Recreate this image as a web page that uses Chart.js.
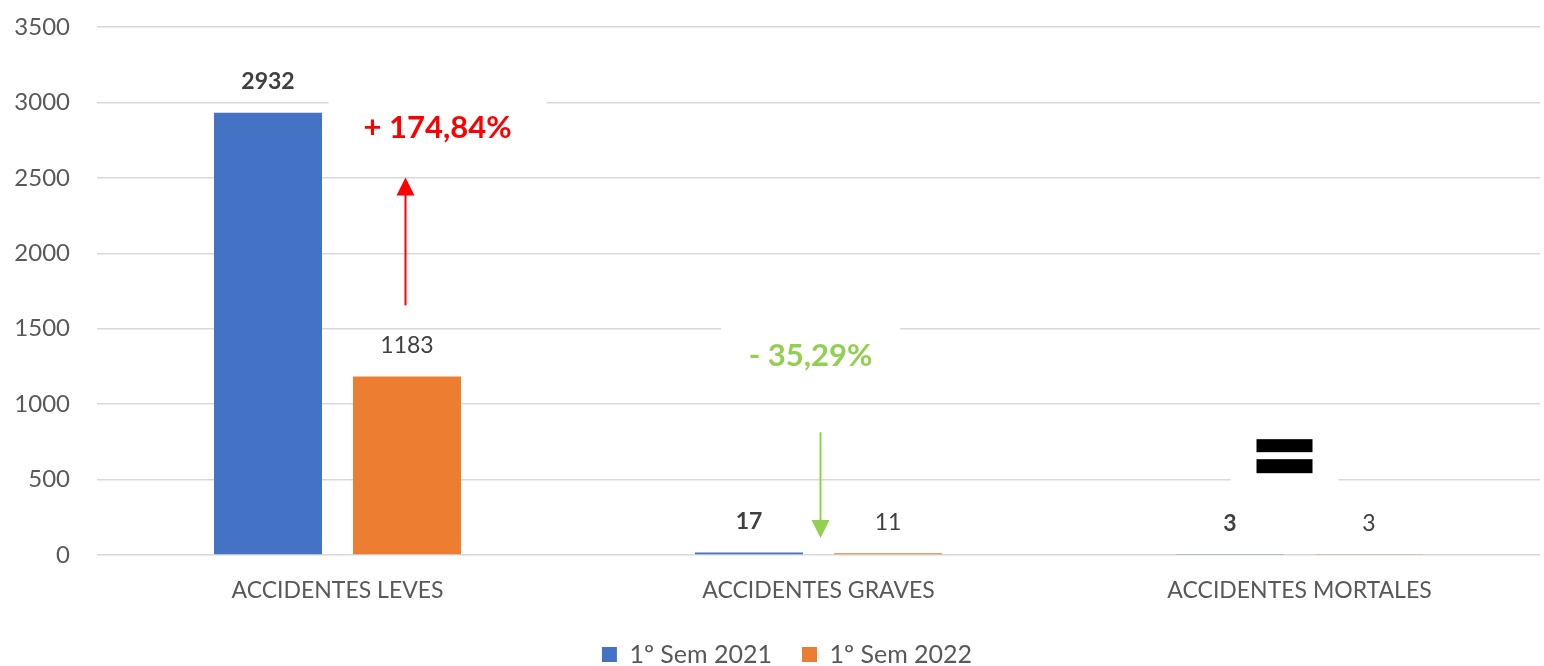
<!DOCTYPE html>
<html>
<head>
<meta charset="utf-8">
<script src="https://cdn.jsdelivr.net/npm/chart.js@4.4.0/dist/chart.umd.min.js"></script>
<style>
  html, body { margin: 0; padding: 0; background: #fff; }
  #wrap { width: 1544px; height: 666px; }
</style>
</head>
<body>
<div id="wrap"><canvas id="accidentes"></canvas></div>
<script>
// datos
const categorias = ['ACCIDENTES LEVES', 'ACCIDENTES GRAVES', 'ACCIDENTES MORTALES'];
const sem2021 = [2932, 17, 3];
const sem2022 = [1183, 11, 3];
const series = ['1º Sem 2021', '1º Sem 2022'];
const yTicks = [0, 500, 1000, 1500, 2000, 2500, 3000, 3500];

// anotaciones: categoria, desplazamiento en px, valor en el eje y
const notas = [
  { cat: 0, dx: 100, y: 2832, texto: '+ 174,84%', color: '#ff0000', caja: [218, 62] },
  { cat: 1, dx: -8, y: 1317, texto: '- 35,29%', color: '#92d050', caja: [179, 62] },
  { cat: 2, dx: -15, y: 655, texto: '=', color: '#000000', caja: [108, 70] }
];
const flechas = [
  { cat: 0, dx: 68, desde: 1655, hasta: 2502, color: '#ff0000' },
  { cat: 1, dx: 2, desde: 814, hasta: 113, color: '#92d050' }
];

const FONT = 'Lato, "Open Sans", sans-serif';

const etiquetas = {
  id: 'etiquetas',
  afterLayout(chart) {
    // la leyenda del original esta algo corrida a la derecha
    chart.legend.left += 17;
    chart.legend.right += 17;
  },
  beforeDatasetsDraw(chart) {
    const ctx = chart.ctx, x = chart.scales.x, y = chart.scales.y;
    ctx.save();
    ctx.fillStyle = '#ffffff';
    notas.forEach(n => {
      const cx = x.getPixelForValue(n.cat) + n.dx, cy = y.getPixelForValue(n.y);
      ctx.fillRect(cx - n.caja[0] / 2, cy - n.caja[1] / 2, n.caja[0], n.caja[1]);
    });
    ctx.restore();
  },
  afterDatasetsDraw(chart) {
    const ctx = chart.ctx, x = chart.scales.x, y = chart.scales.y;
    ctx.save();
    // valores sobre las barras
    ctx.textAlign = 'center';
    ctx.textBaseline = 'middle';
    ctx.fillStyle = '#404040';
    chart.data.datasets.forEach((ds, i) => {
      const meta = chart.getDatasetMeta(i);
      ctx.font = (i === 0 ? 'bold ' : '') + '23px ' + FONT;
      meta.data.forEach((bar, j) => {
        ctx.fillText(String(ds.data[j]), bar.x, bar.y - 31);
      });
    });
    // textos de variacion
    notas.forEach(n => {
      const cx = x.getPixelForValue(n.cat) + n.dx, cy = y.getPixelForValue(n.y);
      ctx.fillStyle = n.color;
      if (n.texto === '=') {
        ctx.fillRect(cx - 28, cy - 17, 56, 13);
        ctx.fillRect(cx - 28, cy + 3, 56, 14);
      } else {
        ctx.font = 'bold 31px ' + FONT;
        ctx.fillText(n.texto, cx, cy);
      }
    });
    // flechas
    flechas.forEach(f => {
      const cx = x.getPixelForValue(f.cat) + f.dx;
      const y0 = y.getPixelForValue(f.desde), y1 = y.getPixelForValue(f.hasta);
      const dir = y1 < y0 ? -1 : 1;
      ctx.strokeStyle = f.color;
      ctx.fillStyle = f.color;
      ctx.lineWidth = 2;
      ctx.beginPath();
      ctx.moveTo(cx, y0);
      ctx.lineTo(cx, y1 - dir * 16);
      ctx.stroke();
      ctx.beginPath();
      ctx.moveTo(cx, y1);
      ctx.lineTo(cx - 9, y1 - dir * 18);
      ctx.lineTo(cx + 9, y1 - dir * 18);
      ctx.closePath();
      ctx.fill();
    });
    ctx.restore();
  }
};

new Chart(document.getElementById('accidentes'), {
  type: 'bar',
  data: {
    labels: categorias,
    datasets: [{
      label: series[0],
      data: sem2021,
      backgroundColor: '#4472c4',
      categoryPercentage: 0.578,
      barPercentage: 0.777
    }, {
      label: series[1],
      data: sem2022,
      backgroundColor: '#ed7d31',
      categoryPercentage: 0.578,
      barPercentage: 0.777
    }]
  },
  options: {
    responsive: true,
    maintainAspectRatio: false,
    animation: false,
    layout: { padding: { top: 27, right: 4, left: 0, bottom: -11 } },
    plugins: {
      legend: {
        position: 'bottom',
        labels: {
          boxWidth: 15,
          boxHeight: 15,
          padding: 30,
          color: '#595959',
          font: { family: FONT, size: 25 }
        }
      },
      tooltip: { enabled: false }
    },
    scales: {
      x: {
        grid: { display: false },
        border: { display: false },
        ticks: { color: '#595959', padding: 14, font: { family: FONT, size: 23 } },
        afterFit(s) { s.height = 57; }
      },
      y: {
        min: 0,
        max: 3500,
        afterBuildTicks(s) { s.ticks = yTicks.map(v => ({ value: v })); },
        grid: { color: '#d9d9d9', lineWidth: 1.5, drawTicks: false },
        border: { display: false },
        ticks: {
          color: '#595959',
          padding: 27,
          font: { family: FONT, size: 24 },
          callback: v => String(v)
        },
        afterFit(s) {
          s.width = 97;
          s.paddingTop = 0;
          s.paddingBottom = 0;
        }
      }
    }
  },
  plugins: [etiquetas]
});
</script>
</body>
</html>
